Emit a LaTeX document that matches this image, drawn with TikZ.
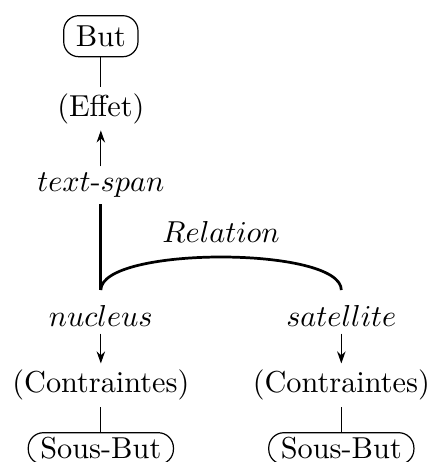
\documentclass[tikz,border=0pt]{standalone}
\usepackage{tikz}
\usetikzlibrary{arrows.meta,positioning}
\tikzset{
  goalnode/.style={draw,rounded corners=5pt,inner xsep=4pt,inner ysep=3.3pt,line width=0.4pt},
  subgoalnode/.style={goalnode,inner ysep=1.6pt},
  plainnode/.style={inner sep=2pt},
  arrow/.style={-{Stealth[length=4pt,width=2.8pt]},line width=0.4pt},
  link/.style={line width=0.4pt},
  spanline/.style={line width=0.9pt}
}
\begin{document}
\begin{tikzpicture}[node distance=0.29cm]
  \useasboundingbox (0,0) rectangle (5.0,5.36);
  % goal side
  \node[goalnode] (but) at (1.17,4.94) {But};
  \node[plainnode] (effet) at (1.17,4.10) {(Effet)};
  \node[plainnode] (span) at (1.17,3.21) {$text$-$span$};

  % nucleus / satellite
  \node[plainnode] (nuc) at (1.17,1.69) {$nucleus$};
  \node[plainnode] (sat) at (3.96,1.69) {$satellite$};
  \node[plainnode] (cl) at (1.17,0.89) {(Contraintes)};
  \node[plainnode] (cr) at (3.96,0.89) {(Contraintes)};
  \node[subgoalnode,below=of cl] (sbl) {Sous-But};
  \node[subgoalnode,below=of cr] (sbr) {Sous-But};

  % links
  \draw[link] (but) -- (effet);
  \draw[arrow] (span) -- (effet);
  \draw[spanline] (span.south) -- ([yshift=3pt]nuc.north);
  \draw[spanline] ([yshift=3pt]nuc.north) to[out=90,in=90,looseness=0.47]
    node[plainnode,midway,above=2.3pt] (rel) {$Relation$} ([yshift=3pt]sat.north);
  \draw[arrow] (nuc) -- (cl);
  \draw[arrow] (sat) -- (cr);
  \draw[link] (cl) -- (sbl);
  \draw[link] (cr) -- (sbr);
\end{tikzpicture}
\end{document}
